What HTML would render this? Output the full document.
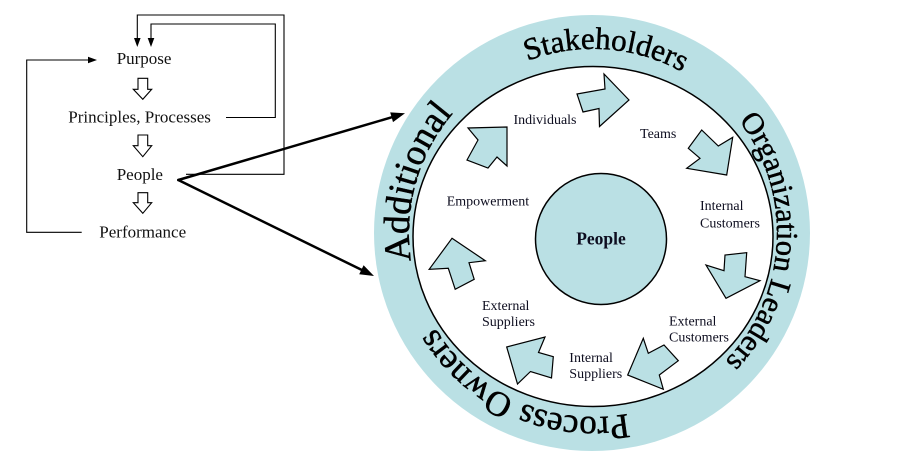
<!DOCTYPE html>
<html>
<head>
<meta charset="utf-8">
<style>
  html,body{margin:0;padding:0;background:#fff;}
  body{width:903px;height:456px;overflow:hidden;}
  svg{display:block;}
  .lbl{font-family:"Liberation Serif",serif;font-size:17px;fill:#111;}
  .in{font-family:"Liberation Serif",serif;font-size:14px;fill:#0d0d1f;}
  .ring{font-family:"Liberation Serif",serif;fill:#000;stroke:#000;stroke-width:0.5;}
</style>
</head>
<body>
<svg width="903" height="456" viewBox="0 0 903 456" xmlns="http://www.w3.org/2000/svg">
  <defs>
    <path id="rp" d="M 777 233 A 184 184 0 1 1 409 233 A 184 184 0 1 1 777 233 A 184 184 0 1 1 409 233 A 184 184 0 1 1 777 233" fill="none"/>
  </defs>

  <!-- Left flow diagram -->
  <text class="lbl" x="116.7" y="64">Purpose</text>
  <text class="lbl" x="68.3" y="122.5">Principles, Processes</text>
  <text class="lbl" x="116.7" y="180">People</text>
  <text class="lbl" x="99.3" y="237.3">Performance</text>

  <!-- hollow down arrows -->
  <g fill="#fff" stroke="#000" stroke-width="1.1" stroke-linejoin="miter">
    <polygon points="138,78.3 147.7,78.3 147.7,89.3 151.7,89.3 142.8,99.3 133.3,89.3 138,89.3"/>
    <polygon points="138,135 147.7,135 147.7,145.7 151.7,145.7 142.8,156.7 133.3,145.7 138,145.7"/>
    <polygon points="138,192.7 147.7,192.7 147.7,202.7 151.7,202.7 142.8,213.3 133.3,202.7 138,202.7"/>
  </g>

  <!-- feedback loops -->
  <g fill="none" stroke="#000" stroke-width="1.1">
    <polyline points="186,174.3 284,174.3 284,15 137.3,15 137.3,39"/>
    <polyline points="226,117.5 275.3,117.5 275.3,24 151,24 151,39"/>
    <polyline points="81.7,232.3 26.7,232.3 26.7,60 89,60"/>
  </g>
  <g fill="#000">
    <polygon points="134,38 140.6,38 137.3,47"/>
    <polygon points="147.7,38 154.3,38 151,47"/>
    <polygon points="88,56.7 88,63.3 97,60"/>
  </g>

  <!-- bold connectors -->
  <g stroke="#000" stroke-width="2.5" fill="none" stroke-linecap="round">
    <line x1="178.3" y1="180" x2="391.6" y2="117.3"/>
    <line x1="178.3" y1="180" x2="361.4" y2="269.8"/>
  </g>
  <g fill="#000">
    <polygon points="405,113.3 393,122.1 390.2,112.4"/>
    <polygon points="374,276 359.2,274.3 363.6,265.3"/>
  </g>

  <!-- Ring -->
  <circle cx="592" cy="233" r="218" fill="#bae0e4"/>
  <ellipse cx="593" cy="236.5" rx="180" ry="170" fill="#fff" stroke="#000" stroke-width="1.5"/>

  <!-- ring text -->
  <text class="ring" font-size="35"><textPath href="#rp" startOffset="254">Process Owners</textPath></text>
  <text class="ring" font-size="37"><textPath href="#rp" startOffset="550">Additional</textPath></text>
  <text class="ring" font-size="31" text-anchor="middle"><textPath href="#rp" startOffset="880">Stakeholders</textPath></text>
  <text class="ring" font-size="30.5"><textPath href="#rp" startOffset="1035">Organization Leaders</textPath></text>

  <!-- center circle -->
  <circle cx="601" cy="239" r="65.5" fill="#bae0e4" stroke="#000" stroke-width="1.5"/>
  <text x="601" y="244.5" text-anchor="middle" font-family="Liberation Serif, serif" font-weight="bold" font-size="17.5" fill="#0d0d1f">People</text>

  <!-- cycle arrows -->
  <g fill="#bae0e4" stroke="#000" stroke-width="1.2" stroke-linejoin="miter">
    <polygon points="507,127 468,128 478,140 467,160 488,168 497,157 507,166"/>
    <polygon points="629,100 604,74 605,89 577,94 583,112 599,108.5 599.5,126.5"/>
    <polygon points="726.7,175 732.7,137.3 718.3,146 701.7,130 688.3,148.3 700,158.3 686.7,168.3"/>
    <polygon points="726,298.3 706,265 724,270.7 725,255 746.7,252.7 745,276.7 760,280.7"/>
    <polygon points="627.7,375 643.3,338.3 648.3,353.3 664,345 678.3,360.7 659.3,375 663.3,389.3"/>
    <polygon points="506.7,347 545,337 538.5,352.5 553.3,356.7 551.5,378 530.5,371.5 517.5,384"/>
    <polygon points="452,238.3 485.3,260.7 469,262.7 474.2,279.3 455.2,289.3 448.3,268.3 429.2,269.3"/>
  </g>

  <!-- inner labels -->
  <text class="in" x="513.5" y="124">Individuals</text>
  <text class="in" x="640" y="138">Teams</text>
  <text class="in" x="700" y="210">Internal</text>
  <text class="in" x="700" y="227.5">Customers</text>
  <text class="in" x="669" y="325.5">External</text>
  <text class="in" x="669" y="341.5">Customers</text>
  <text class="in" x="569.3" y="362">Internal</text>
  <text class="in" x="569.3" y="378">Suppliers</text>
  <text class="in" x="482" y="310">External</text>
  <text class="in" x="482" y="326">Suppliers</text>
  <text class="in" x="446.7" y="205.5">Empowerment</text>
</svg>
</body>
</html>
